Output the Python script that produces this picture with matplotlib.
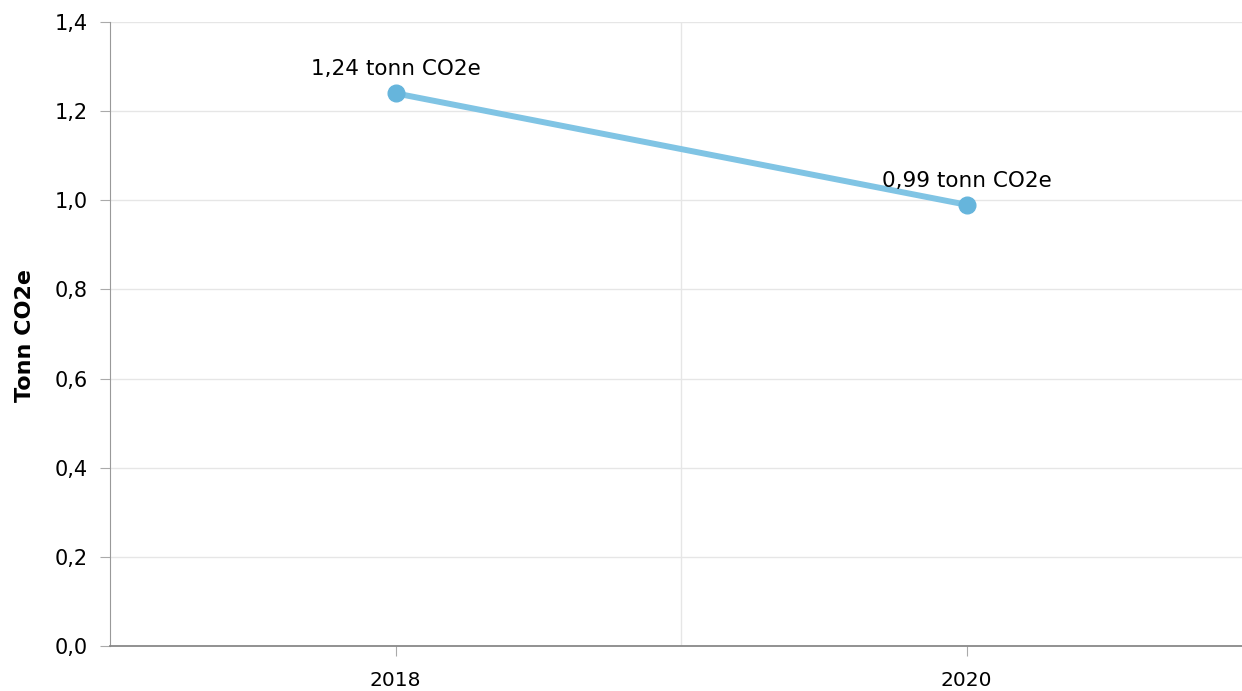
import matplotlib.pyplot as plt
from matplotlib.ticker import FuncFormatter

# data
years = [2018, 2020]
values = [1.24, 0.99]
labels = ['1,24 tonn CO2e', '0,99 tonn CO2e']
y_ticks = [0.0, 0.2, 0.4, 0.6, 0.8, 1.0, 1.2, 1.4]

plt.rcParams['font.family'] = 'DejaVu Sans'

fig = plt.figure(figsize=(12.42, 6.91), dpi=100)
W, H = 1242, 691
ax = fig.add_axes([110 / W, 45 / H, (1242 - 110) / W, (646 - 22) / H])

ax.plot(years, values, color='#80c4e4', lw=4.3, zorder=3, solid_capstyle='round')
ax.plot(years, values, 'o', color='#66b5dc', ms=12, zorder=4)

for x, y, t in zip(years, values, labels):
    ax.annotate(t, (x, y), xytext=(0, 10), textcoords='offset points',
                ha='center', va='bottom', fontsize=15.5, color='black')

ax.set_xlim(2017, 2017 + (1242 - 110) / 285.5)
ax.set_ylim(0, 1.4)
ax.set_yticks(y_ticks)
ax.yaxis.set_major_formatter(FuncFormatter(lambda v, p: f'{v:.1f}'.replace('.', ',')))
ax.set_xticks(years)
ax.set_xticklabels([str(y) for y in years])

# horizontal grid at every tick, vertical grid at the category boundary
ax.grid(axis='y', color='#e6e6e6', lw=1)
ax.axvline(2019, color='#e6e6e6', lw=1, zorder=0)
ax.set_axisbelow(True)

for s in ['top', 'right']:
    ax.spines[s].set_visible(False)
ax.spines['left'].set_color('#999999')
ax.spines['bottom'].set_color('#888888')
ax.spines['bottom'].set_linewidth(1.3)
ax.tick_params(axis='y', length=7, color='#aaaaaa', labelsize=15, pad=9)
ax.tick_params(axis='x', length=7, color='#aaaaaa', labelsize=14.5, pad=11)

# y axis title placed by hand, further left than matplotlib puts it
fig.text(25 / W, 1 - 335 / H, 'Tonn CO2e', rotation=90, ha='center', va='center',
         fontsize=16, fontweight='bold')

fig.savefig('out.png', dpi=100)
